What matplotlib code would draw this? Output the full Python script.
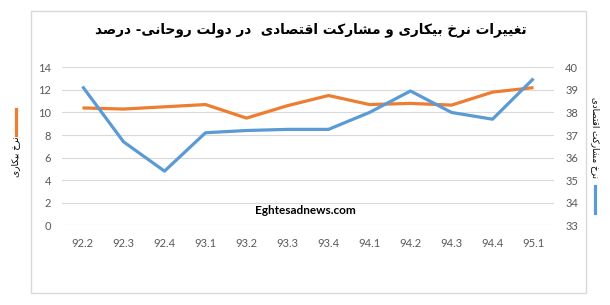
import matplotlib
matplotlib.use('Agg')
import matplotlib.pyplot as plt
from matplotlib.patches import Rectangle

# داده‌ها
quarters = ['92.2', '92.3', '92.4', '93.1', '93.2', '93.3',
            '93.4', '94.1', '94.2', '94.3', '94.4', '95.1']
unemployment = [10.4, 10.3, 10.5, 10.7, 9.5, 10.6,
                11.5, 10.7, 10.8, 10.65, 11.8, 12.2]
participation = [39.15, 36.7, 35.4, 37.1, 37.2, 37.25,
                 37.25, 38.0, 38.95, 38.0, 37.7, 39.5]

title_text = 'تغییرات نرخ بیکاری و مشارکت اقتصادی  در دولت روحانی- درصد'
left_label = 'نرخ بیکاری'
right_label = 'نرخ مشارکت اقتصادی'
watermark = 'Eghtesadnews.com'

# شکل‌دهی ساده حروف فارسی (matplotlib حروف را به هم نمی‌چسباند)
FORMS = {
    'ا': ('\uFE8D', '\uFE8E', None, None),
    'ب': ('\uFE8F', '\uFE90', '\uFE91', '\uFE92'),
    'ت': ('\uFE95', '\uFE96', '\uFE97', '\uFE98'),
    'ح': ('\uFEA1', '\uFEA2', '\uFEA3', '\uFEA4'),
    'خ': ('\uFEA5', '\uFEA6', '\uFEA7', '\uFEA8'),
    'د': ('\uFEA9', '\uFEAA', None, None),
    'ر': ('\uFEAD', '\uFEAE', None, None),
    'ش': ('\uFEB5', '\uFEB6', '\uFEB7', '\uFEB8'),
    'ص': ('\uFEB9', '\uFEBA', '\uFEBB', '\uFEBC'),
    'غ': ('\uFECD', '\uFECE', '\uFECF', '\uFED0'),
    'ق': ('\uFED5', '\uFED6', '\uFED7', '\uFED8'),
    'ل': ('\uFEDD', '\uFEDE', '\uFEDF', '\uFEE0'),
    'م': ('\uFEE1', '\uFEE2', '\uFEE3', '\uFEE4'),
    'ن': ('\uFEE5', '\uFEE6', '\uFEE7', '\uFEE8'),
    'و': ('\uFEED', '\uFEEE', None, None),
    'ک': ('\uFB8E', '\uFB8F', '\uFB90', '\uFB91'),
    'ی': ('\uFBFC', '\uFBFD', '\uFBFE', '\uFBFF'),
}


def fa(s):
    out = []
    for i, c in enumerate(s):
        if c not in FORMS:
            out.append(c)
            continue
        iso, fin, ini, med = FORMS[c]
        prev = s[i - 1] if i > 0 else ''
        nxt = s[i + 1] if i + 1 < len(s) else ''
        jp = prev in FORMS and FORMS[prev][2] is not None
        jn = ini is not None and nxt in FORMS
        if jp and jn:
            out.append(med)
        elif jp:
            out.append(fin)
        elif jn:
            out.append(ini)
        else:
            out.append(iso)
    return ''.join(reversed(out))


orange = '#ED7D31'
blue = '#5B9BD5'
grid_c = '#D9D9D9'
tick_c = '#595959'

fig = plt.figure(figsize=(6.1, 3.05), dpi=100)
fig.patch.set_facecolor('white')

# کادر دور نمودار
fig.patches.append(Rectangle((31 / 610, 1 - 293 / 305), 555 / 610, 282 / 305,
                             transform=fig.transFigure, fill=False,
                             edgecolor=grid_c, lw=1))

ax = fig.add_axes([62 / 610, 1 - 225.3 / 305, 492 / 610, 158 / 305])
x = range(len(quarters))
ax.plot(x, unemployment, color=orange, lw=2.3, solid_capstyle='butt')
ax.set_xlim(-0.5, 11.5)
ax.set_ylim(0, 14)
ax.set_yticks(range(0, 15, 2))
ax.set_xticks(list(x))
ax.set_xticklabels(quarters)
ax.grid(axis='y', color=grid_c, lw=0.8)
ax.set_axisbelow(True)
for s in ax.spines.values():
    s.set_visible(False)
ax.tick_params(length=0, labelsize=8, colors=tick_c)
ax.tick_params(axis='y', pad=8)
ax.tick_params(axis='x', pad=9)

ax2 = ax.twinx()
ax2.plot(x, participation, color=blue, lw=2.3, solid_capstyle='butt')
ax2.set_ylim(33, 40)
ax2.set_yticks(range(33, 41))
for s in ax2.spines.values():
    s.set_visible(False)
ax2.tick_params(length=0, labelsize=8, colors=tick_c, pad=8)

for a in (ax, ax2):
    for lab in a.get_xticklabels() + a.get_yticklabels():
        lab.set_family(['Lato', 'DejaVu Sans'])

fig.text(311 / 610, 1 - 30 / 305, fa(title_text), ha='center', va='center',
         fontsize=9.8, fontweight='bold', family=['DejaVu Sans'])

fig.text(305 / 610, 1 - 211 / 305, watermark, ha='center', va='center',
         fontsize=8.5, fontweight='bold', family=['Lato', 'DejaVu Sans'])

# راهنمای چپ
fig.add_artist(plt.Line2D([16 / 610, 16 / 610], [1 - 109 / 305, 1 - 135 / 305],
                          transform=fig.transFigure, color=orange, lw=2.3))
fig.text(16 / 610, 1 - 157 / 305, fa(left_label), rotation=90, ha='center',
         va='center', fontsize=6.5, family=['DejaVu Sans'])

# راهنمای راست
fig.text(595 / 610, 1 - 138 / 305, fa(right_label), rotation=270, ha='center',
         va='center', fontsize=6.3, family=['DejaVu Sans'])
fig.add_artist(plt.Line2D([595 / 610, 595 / 610], [1 - 186 / 305, 1 - 213 / 305],
                          transform=fig.transFigure, color=blue, lw=2.3))

fig.savefig('out.png', dpi=100)
